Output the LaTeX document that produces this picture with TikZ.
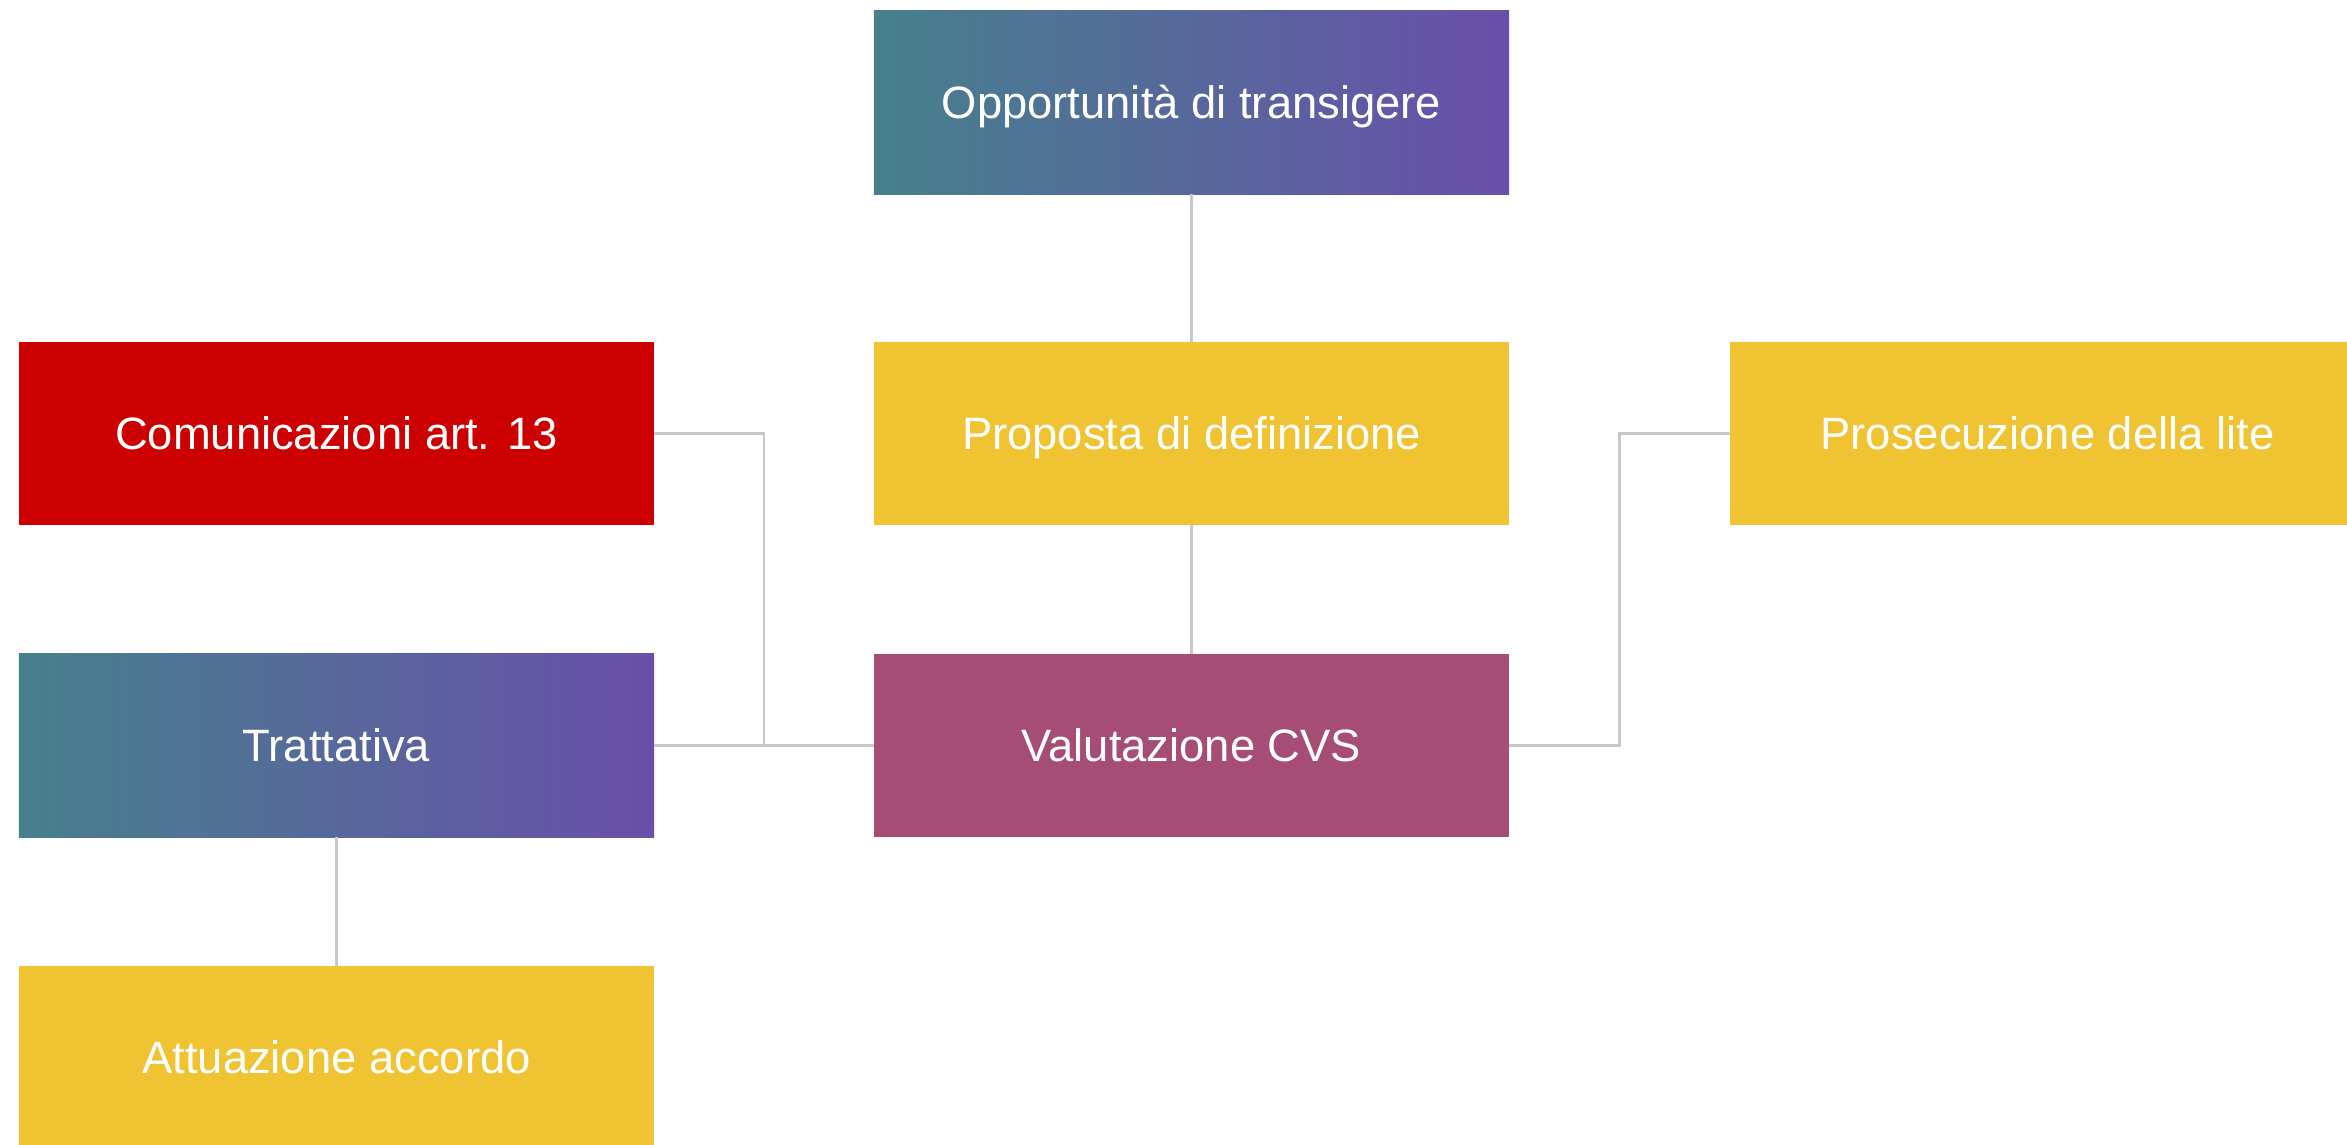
\documentclass[tikz,border=0pt]{standalone}
\usepackage{fontspec}
\setmainfont{Liberation Sans}
\definecolor{teal1}{RGB}{70,128,140}
\definecolor{purp1}{RGB}{105,79,170}
\definecolor{redbox}{RGB}{204,0,0}
\definecolor{yelbox}{RGB}{240,195,50}
\definecolor{plumbox}{RGB}{166,77,118}
\definecolor{linegray}{RGB}{200,200,200}
\tikzset{
  box/.style={rectangle, minimum width=6.35cm, minimum height=1.83cm, inner sep=0pt, outer sep=0pt,
    text=white, font=\fontsize{12.9}{15}\selectfont, text height=9.25pt, text depth=0pt},
  gradbox/.style={box, left color=teal1, right color=purp1},
  redstyle/.style={box, fill=redbox},
  yelstyle/.style={box, fill=yelbox},
  plumstyle/.style={box, fill=plumbox},
  conn/.style={draw=linegray, line width=0.6pt}
}
\begin{document}
\begin{tikzpicture}[x=0.01cm, y=-0.01cm]
\useasboundingbox (0,0) rectangle (2347,1144);
\clip (0,0) rectangle (2347,1144);
\node[gradbox] (opp) at (1191.5,102.5) {Opportunità di transigere};
\node[redstyle] (com) at (336.5,433.5) {Comunicazioni art. 13};
\node[yelstyle] (prop) at (1191.5,433.5) {Proposta di definizione};
\node[yelstyle] (pros) at (2047.5,433.5) {Prosecuzione della lite};
\node[gradbox] (trat) at (336.5,745.5) {Trattativa};
\node[plumstyle] (val) at (1191.5,745.5) {Valutazione CVS};
\node[yelstyle] (att) at (336.5,1057.5) {Attuazione accordo};
\coordinate (eL) at (764,433.5);
\coordinate (eR) at (1619.5,433.5);
\draw[conn] (opp.south) -- (prop.north);
\draw[conn] (prop.south) -- (val.north);
\draw[conn] (com.east) -- (eL) |- (val.west);
\draw[conn] (trat.east) -- (val.west);
\draw[conn] (val.east) -| (eR) -- (pros.west);
\draw[conn] (trat.south) -- (att.north);
\end{tikzpicture}
\end{document}
